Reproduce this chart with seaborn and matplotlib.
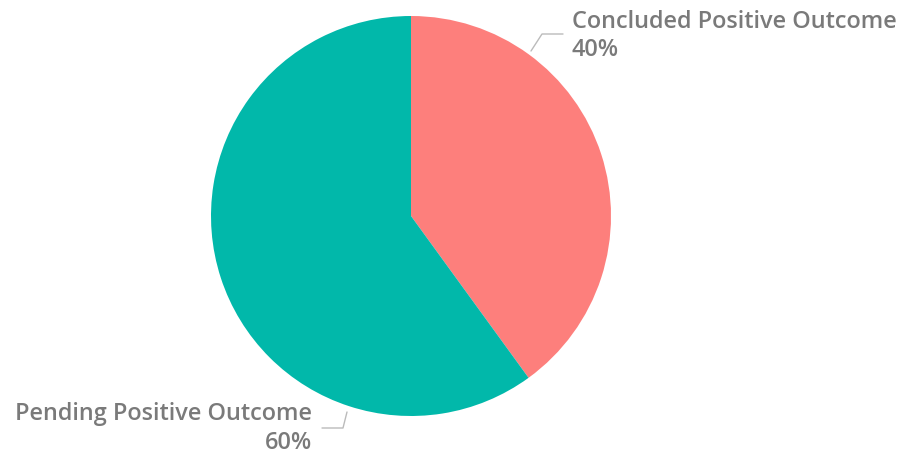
import matplotlib
matplotlib.use("Agg")
import matplotlib.pyplot as plt
import seaborn as sns

labels = ["Concluded Positive Outcome", "Pending Positive Outcome"]
values = [40, 60]
colors = ["#FD7F7C", "#01B8AA"]

sns.set_theme(style="white")
plt.rcParams["font.family"] = ["Open Sans", "DejaVu Sans"]

W, H = 901, 458
fig = plt.figure(figsize=(W / 100, H / 100), dpi=100)

# pie axes: centre (411, 216), radius 200 px
ax = fig.add_axes([211 / W, (H - 416) / H, 400 / W, 400 / H])
ax.pie(values, colors=colors, startangle=90, counterclock=False,
       radius=1.0, wedgeprops=dict(linewidth=0))
ax.set_xlim(-1, 1)
ax.set_ylim(-1, 1)
ax.set_aspect("equal")
ax.axis("off")

# overlay axes in pixel coordinates for labels and leader lines
ov = fig.add_axes([0, 0, 1, 1])
ov.set_xlim(0, W)
ov.set_ylim(H, 0)
ov.axis("off")

grey = "#7A7A7A"
line_grey = "#BBBBBB"
total = sum(values)
fs = 16.9
txt = dict(color=grey, fontsize=fs, fontweight="semibold", va="center")

ov.plot([531, 542, 563], [51, 34, 34], color=line_grey, lw=1)
ov.text(572, 22, labels[0], ha="left", **txt)
ov.text(572, 50, f"{values[0] * 100 // total}%", ha="left", **txt)

ov.plot([347, 343, 322], [412, 428, 428], color=line_grey, lw=1)
ov.text(312, 414, labels[1], ha="right", **txt)
ov.text(312, 443, f"{values[1] * 100 // total}%", ha="right", **txt)

fig.savefig("out.png", dpi=100)
